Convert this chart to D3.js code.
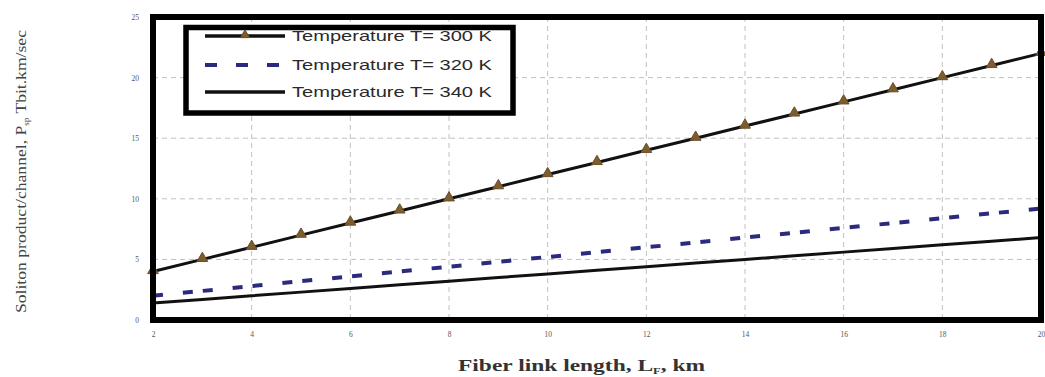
<!DOCTYPE html>
<html><head><meta charset="utf-8">
<script src="https://cdn.jsdelivr.net/npm/d3@7"></script>
<style>body{margin:0;background:#fff}svg{display:block}</style>
</head><body>
<script>
const lengths = [2,3,4,5,6,7,8,9,10,11,12,13,14,15,16,17,18,19,20];
const t300 = [4,5,6,7,8,9,10,11,12,13,14,15,16,17,18,19,20,21,22];
const t320 = [2.0,2.4,2.8,3.2,3.6,4.0,4.4,4.8,5.2,5.6,6.0,6.4,6.8,7.2,7.6,8.0,8.4,8.8,9.2];
const t340 = [1.4,1.7,2.0,2.3,2.6,2.9,3.2,3.5,3.8,4.1,4.4,4.7,5.0,5.3,5.6,5.9,6.2,6.5,6.8];
const xTicks = [2,4,6,8,10,12,14,16,18,20];
const yTicks = [0,5,10,15,20,25];
const seriesNames = ["Temperature T= 300 K","Temperature T= 320 K","Temperature T= 340 K"];

const W=1045,H=377;
const svg=d3.select("body").append("svg").attr("width",W).attr("height",H);
const L=153,R=1041,T=17,B=320;
const x=d3.scaleLinear().domain([2,20]).range([L,R]);
const y=d3.scaleLinear().domain([0,25]).range([B,T]);

// grid
const g=svg.append("g");
g.selectAll(".gx").data(xTicks.slice(1,-1)).join("line")
 .attr("x1",d=>x(d)).attr("x2",d=>x(d)).attr("y1",T).attr("y2",B)
 .attr("stroke","#c0c0c0").attr("stroke-width",1).attr("stroke-dasharray","5,4");
g.selectAll(".gy").data(yTicks.slice(1,-1)).join("line")
 .attr("x1",L).attr("x2",R).attr("y1",d=>y(d)).attr("y2",d=>y(d))
 .attr("stroke","#c0c0c0").attr("stroke-width",1).attr("stroke-dasharray","5,4");

// axes (labels only)
const xa=svg.append("g").attr("transform",`translate(0,${B+9})`)
 .call(d3.axisBottom(x).tickValues(xTicks).tickSize(0).tickFormat(d3.format("d")));
xa.select(".domain").remove();
xa.selectAll("text").attr("font-family","Liberation Serif").attr("font-size",7.5).attr("fill","#555");
const ya=svg.append("g").attr("transform",`translate(${L-11},0)`)
 .call(d3.axisLeft(y).tickValues(yTicks).tickSize(0).tickFormat(d3.format("d")));
ya.select(".domain").remove();
ya.selectAll("text").attr("font-family","Liberation Serif").attr("font-size",7.5).attr("fill","#555");

const pts=a=>lengths.map((v,i)=>[v,a[i]]);
const line=d3.line().x(d=>x(d[0])).y(d=>y(d[1]));

svg.append("path").attr("d",line(pts(t340))).attr("fill","none").attr("stroke","#111").attr("stroke-width",3);
svg.append("path").attr("d",line(pts(t320))).attr("fill","none").attr("stroke","#2b2a7c").attr("stroke-width",4)
 .attr("stroke-dasharray","10,20,10,10");
svg.append("path").attr("d",line(pts(t300))).attr("fill","none").attr("stroke","#111").attr("stroke-width",3);
const tri=d3.symbol().type(d3.symbolTriangle).size(50);
svg.selectAll(".m").data(pts(t300)).join("path")
 .attr("d",tri).attr("transform",d=>`translate(${x(d[0])},${y(d[1])-1})`)
 .attr("fill","#7d5d2e").attr("stroke","#6b4f28").attr("stroke-width",1);

// frame
svg.append("rect").attr("x",L).attr("y",T).attr("width",R-L).attr("height",B-T)
 .attr("fill","none").attr("stroke","#000").attr("stroke-width",6);

// legend
const lg=svg.append("g");
lg.append("rect").attr("x",186).attr("y",27.5).attr("width",327).attr("height",85.5)
 .attr("fill","#fff").attr("stroke","#000").attr("stroke-width",5.5);
const rows=[36,65,92];
const tri2=d3.symbol().type(d3.symbolTriangle).size(36);
lg.append("line").attr("x1",205).attr("x2",285).attr("y1",rows[0]).attr("y2",rows[0]).attr("stroke","#111").attr("stroke-width",3.5);
lg.append("path").attr("d",tri2).attr("transform",`translate(245,${rows[0]-1})`).attr("fill","#7d5d2e").attr("stroke","#6b4f28");
lg.append("line").attr("x1",205).attr("x2",285).attr("y1",rows[1]).attr("y2",rows[1]).attr("stroke","#2b2a7c").attr("stroke-width",4).attr("stroke-dasharray","12,19");
lg.append("line").attr("x1",205).attr("x2",285).attr("y1",rows[2]).attr("y2",rows[2]).attr("stroke","#111").attr("stroke-width",3.5);
lg.selectAll(".lt").data(seriesNames).join("text")
 .attr("x",292).attr("y",(d,i)=>rows[i]+5).text(d=>d)
 .attr("font-family","Liberation Sans").attr("font-size",14.5).attr("fill","#2a2a2a")
 .attr("textLength",200).attr("lengthAdjust","spacingAndGlyphs");

// axis titles
const xt=svg.append("text").attr("x",458).attr("y",371)
 .attr("font-family","Liberation Serif").attr("font-size",17).attr("font-weight","bold").attr("fill","#333")
 .attr("textLength",247).attr("lengthAdjust","spacingAndGlyphs");
xt.append("tspan").text("Fiber link length, L");
xt.append("tspan").text("F").attr("font-size",9).attr("dy",3);
xt.append("tspan").text(", km").attr("dy",-3);

const yt=svg.append("text").attr("transform","translate(26,313) rotate(-90)")
 .attr("font-family","Liberation Serif").attr("font-size",15.5).attr("fill","#444")
 .attr("textLength",283).attr("lengthAdjust","spacingAndGlyphs");
yt.append("tspan").text("Soliton product/channel, P");
yt.append("tspan").text("sp").attr("font-size",8).attr("dy",3);
yt.append("tspan").text(" Tbit.km/sec").attr("dy",-3);
</script>
</body></html>
